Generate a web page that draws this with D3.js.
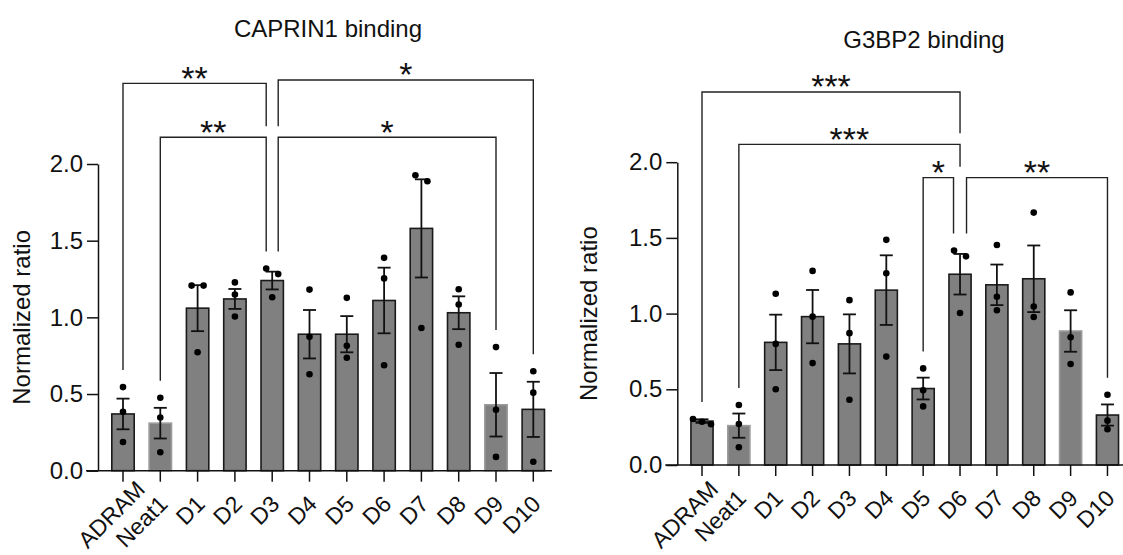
<!DOCTYPE html>
<html>
<head>
<meta charset="utf-8">
<script src="https://cdn.jsdelivr.net/npm/d3@7"></script>
<style>
  body { margin: 0; background: #fff; }
  text { font-family: "Liberation Sans", Arial, sans-serif; fill: #111; }
</style>
</head>
<body>
<svg id="chart" width="1123" height="555"></svg>
<script>
// categories on the x axis
var categories = ["ADRAM", "Neat1", "D1", "D2", "D3", "D4", "D5", "D6", "D7", "D8", "D9", "D10"];
var yTicks = [0, 0.5, 1.0, 1.5, 2.0];

// CAPRIN1 binding: mean, SEM and the three replicates
var caprinMean = [0.37, 0.31, 1.06, 1.12, 1.24, 0.89, 0.89, 1.11, 1.58, 1.03, 0.43, 0.40];
var caprinSem  = [0.10, 0.10, 0.15, 0.065, 0.058, 0.158, 0.118, 0.214, 0.32, 0.107, 0.207, 0.18];
var caprinPoints = [
  [0.545, 0.384, 0.187], [0.476, 0.347, 0.12], [1.207, 1.207, 0.772], [1.228, 1.149, 1.006],
  [1.319, 1.282, 1.131], [1.181, 0.873, 0.629], [1.127, 0.815, 0.737], [1.388, 1.254, 0.688],
  [1.927, 1.888, 0.931], [1.183, 1.084, 0.821], [0.806, 0.397, 0.09], [0.649, 0.509, 0.058]
];

// G3BP2 binding
var g3bpMean = [0.29, 0.26, 0.81, 0.98, 0.80, 1.155, 0.505, 1.26, 1.19, 1.23, 0.885, 0.33];
var g3bpSem  = [0.012, 0.08, 0.183, 0.176, 0.195, 0.23, 0.072, 0.134, 0.134, 0.22, 0.137, 0.07];
var g3bpPoints = [
  [0.304, 0.286, 0.269], [0.396, 0.271, 0.117], [1.131, 0.80, 0.50], [1.282, 0.98, 0.673],
  [1.089, 0.871, 0.431], [1.487, 1.267, 0.716], [0.638, 0.493, 0.387], [1.416, 1.378, 1.004],
  [1.453, 1.111, 1.022], [1.667, 1.047, 0.978], [1.14, 0.844, 0.667], [0.464, 0.293, 0.236]
];

// significance brackets: from / to category, stars, height (data units)
var caprinSig = [
  {a: "ADRAM", b: "D3", label: "**", level: 2.526, aOff: 0, bOff: -6},
  {a: "Neat1", b: "D3", label: "**", level: 2.174, aOff: 0, bOff: -6},
  {a: "D3", b: "D10", label: "*", level: 2.548, aOff: 6, bOff: 0},
  {a: "D3", b: "D9", label: "*", level: 2.174, aOff: 6, bOff: 0}
];
var g3bpSig = [
  {a: "ADRAM", b: "D6", label: "***", level: 2.464, aOff: 0, bOff: 0},
  {a: "Neat1", b: "D6", label: "***", level: 2.118, aOff: 0, bOff: 0},
  {a: "D5", b: "D6", label: "*", level: 1.898, aOff: 0, bOff: -6.5},
  {a: "D6", b: "D10", label: "**", level: 1.898, aOff: 6.5, bOff: 0}
];

var lightBars = ["Neat1", "D9"];

var svg = d3.select("#chart");
svg.append("rect").attr("width", 1123).attr("height", 555).attr("fill", "#fff");

/* spread replicates that would overlap */
function jitter(vals, y) {
  var order = vals.map(function(v, i) { return i; })
      .sort(function(a, b) { return vals[b] - vals[a]; });
  var offs = vals.map(function() { return 0; });
  var groups = [], cur = [order[0]];
  for (var k = 1; k < order.length; k++) {
    if (Math.abs(y(vals[order[k]]) - y(vals[cur[cur.length - 1]])) < 6.5) cur.push(order[k]);
    else { groups.push(cur); cur = [order[k]]; }
  }
  groups.push(cur);
  groups.forEach(function(gr) {
    var step = gr.length === 2 ? 12 : 9;
    gr.forEach(function(idx, j) { offs[idx] = (j - (gr.length - 1) / 2) * step; });
  });
  return offs;
}

function drawPanel(p) {
  var x = d3.scaleBand().domain(categories)
      .range([p.x0, p.x1]).paddingInner(0.4).paddingOuter(0.2);
  var y = d3.scaleLinear().domain([0, 2]).range([p.bottom, p.top]);
  var g = svg.append("g");
  var cx = function(c) { return x(c) + x.bandwidth() / 2; };

  var rows = categories.map(function(c, i) {
    return {cat: c, mean: p.mean[i], sem: p.sem[i], pts: p.points[i]};
  });

  /* bars */
  g.selectAll(".bar").data(rows).enter().append("rect")
      .attr("class", "bar")
      .attr("x", function(d) { return x(d.cat); })
      .attr("width", x.bandwidth())
      .attr("y", function(d) { return y(d.mean); })
      .attr("height", function(d) { return y(0) - y(d.mean); })
      .attr("fill", "#808080")
      .attr("stroke", function(d) { return lightBars.indexOf(d.cat) >= 0 ? "#9c9c9c" : "#1a1a1a"; })
      .attr("stroke-width", 1.6);

  /* error bars */
  var err = g.selectAll(".err").data(rows).enter().append("g").attr("class", "err")
      .attr("stroke", "#111").attr("stroke-width", 1.8);
  err.append("line")
      .attr("x1", function(d) { return cx(d.cat); }).attr("x2", function(d) { return cx(d.cat); })
      .attr("y1", function(d) { return y(d.mean - d.sem); })
      .attr("y2", function(d) { return y(d.mean + d.sem); });
  [-1, 1].forEach(function(s) {
    err.append("line")
        .attr("x1", function(d) { return cx(d.cat) - 6.5; })
        .attr("x2", function(d) { return cx(d.cat) + 6.5; })
        .attr("y1", function(d) { return y(d.mean + s * d.sem); })
        .attr("y2", function(d) { return y(d.mean + s * d.sem); });
  });

  /* replicate points */
  rows.forEach(function(d) {
    var offs = jitter(d.pts, y);
    g.selectAll(null).data(d.pts).enter().append("circle")
        .attr("cx", function(v, i) { return cx(d.cat) + offs[i]; })
        .attr("cy", function(v) { return y(v); })
        .attr("r", 3.3)
        .attr("fill", "#000");
  });

  /* y axis */
  var yAxis = g.append("g")
      .attr("transform", "translate(" + p.axisX + ",0)")
      .call(d3.axisLeft(y).tickValues(yTicks).tickFormat(d3.format(".1f"))
            .tickSizeInner(11).tickSizeOuter(0).tickPadding(4));
  yAxis.selectAll("text").style("font-size", "24px").attr("fill", "#111");
  yAxis.selectAll("line, path").attr("stroke", "#111").attr("stroke-width", 1.5);

  /* x axis */
  var xAxis = g.append("g")
      .attr("transform", "translate(0," + y(0) + ")")
      .call(d3.axisBottom(x).tickSizeInner(11).tickSizeOuter(0).tickFormat(""));
  xAxis.select(".domain").remove();
  xAxis.selectAll("line").attr("stroke", "#111").attr("stroke-width", 1.5);
  g.append("line")
      .attr("x1", p.axisX - 12).attr("x2", p.x1)
      .attr("y1", y(0)).attr("y2", y(0))
      .attr("stroke", "#111").attr("stroke-width", 1.5);

  var xlab = g.selectAll(".xlab").data(categories).enter().append("text")
      .attr("class", "xlab")
      .attr("text-anchor", "end")
      .attr("dy", "0.35em")
      .attr("transform", function(c) {
        return "translate(" + (cx(c) + 3) + "," + (y(0) + 29) + ") rotate(-45)";
      })
      .style("font-size", "23px")
      .text(function(c) { return c; });
  // slide long labels up along their baseline so they stay inside the picture
  xlab.each(function() {
    var r = this.getBoundingClientRect();
    var over = r.bottom - 553;
    if (over > 0) d3.select(this).attr("dx", over * Math.SQRT2);
  });

  /* axis title */
  g.append("text")
      .attr("transform", "translate(" + p.labelX + "," + (p.top + p.bottom) / 2 + ") rotate(-90)")
      .attr("text-anchor", "middle")
      .style("font-size", "24px")
      .text("Normalized ratio");

  /* title */
  g.append("text")
      .attr("x", p.titleX).attr("y", p.titleY)
      .attr("text-anchor", "middle")
      .style("font-size", "24px")
      .text(p.title);

  /* significance brackets */
  var topOf = function(c) {
    var i = categories.indexOf(c);
    return Math.max(d3.max(p.points[i]), p.mean[i] + p.sem[i]);
  };
  var span = function(o) { return [cx(o.a) + o.aOff, cx(o.b) + o.bOff]; };
  var legEnd = function(s, c, lx) {
    var below = p.sig.filter(function(o) {
      var sp = span(o);
      return o.level < s.level && sp[0] - 8 <= lx && sp[1] + 8 >= lx;
    });
    if (below.length) return y(d3.max(below, function(o) { return o.level; })) - 11;
    return y(topOf(c)) - 17;
  };
  p.sig.forEach(function(s) {
    var sp = span(s), xa = sp[0], xb = sp[1], ys = y(s.level);
    g.append("path")
        .attr("d", "M" + xa + "," + legEnd(s, s.a, xa) + "V" + ys + "H" + xb + "V" + legEnd(s, s.b, xb))
        .attr("fill", "none").attr("stroke", "#222").attr("stroke-width", 1.4);
    g.append("text")
        .attr("x", (xa + xb) / 2).attr("y", ys + 6.5)
        .attr("text-anchor", "middle")
        .style("font-size", "34px")
        .text(s.label);
  });
}

drawPanel({
  title: "CAPRIN1 binding", titleX: 328, titleY: 37,
  mean: caprinMean, sem: caprinSem, points: caprinPoints, sig: caprinSig,
  x0: 104.35, x1: 551.95, axisX: 98, top: 164, bottom: 470.7, labelX: 30
});

drawPanel({
  title: "G3BP2 binding", titleX: 924, titleY: 48,
  mean: g3bpMean, sem: g3bpSem, points: g3bpPoints, sig: g3bpSig,
  x0: 683.57, x1: 1125.9, axisX: 677.3, top: 162.2, bottom: 465, labelX: 597
});
</script>
</body>
</html>
